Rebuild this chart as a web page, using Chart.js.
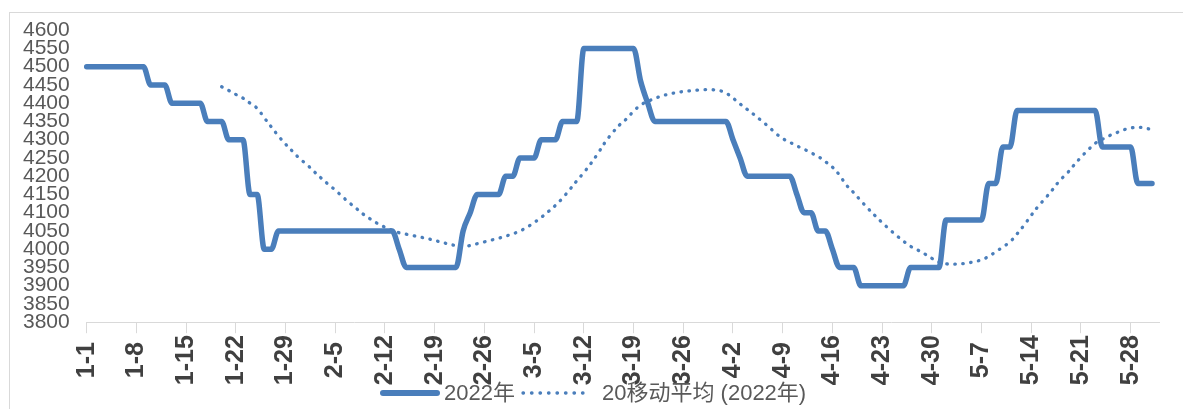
<!DOCTYPE html>
<html>
<head>
<meta charset="utf-8">
<script src="https://cdn.jsdelivr.net/npm/chart.js@4"></script>
<style>
  body { margin: 0; background: #fff; overflow: hidden; }
  #wrap { position: relative; width: 1183px; height: 409px; }
  #frame { position: absolute; left: 9px; top: 12px; width: 1200px; height: 420px;
           border-left: 1px solid #d9d9d9; border-top: 1px solid #d9d9d9; }
  #myChart { position: absolute; left: 0; top: 0; }
  .lg { position: absolute; top: 380px; height: 26px; line-height: 26px;
        font-family: "Liberation Sans", "Noto Sans CJK SC", sans-serif; font-size: 22px; color: #595959; white-space: nowrap; }
  .lg svg { position: absolute; top: 0; }
</style>
</head>
<body>
<div id="wrap">
  <div id="frame"></div>
  <canvas id="myChart" width="1183" height="409"></canvas>
  <div class="lg" style="left:380px;width:60px"><svg width="60" height="26"><line x1="3" y1="13" x2="57" y2="13" stroke="#4a7ebb" stroke-width="6" stroke-linecap="round"/></svg></div>
  <div class="lg" style="left:444px">2022年</div>
  <div class="lg" style="left:520px;width:66px"><svg width="66" height="26"><line x1="3" y1="13" x2="63" y2="13" stroke="#4a7ebb" stroke-width="3.3" stroke-linecap="round" stroke-dasharray="0.5 8"/></svg></div>
  <div class="lg" style="left:602px">20移动平均 (2022年)</div>
</div>
<script>
// Kategorien: Tage 1-1 bis 6-1
var categories = [];
[[1, 31], [2, 28], [3, 31], [4, 30], [5, 31], [6, 1]].forEach(function (m) {
    for (var d = 1; d <= m[1]; d++) categories.push(m[0] + '-' + d);
});

// beschriftete Ticks (jede Woche)
var tickLabels = ['1-1', '1-8', '1-15', '1-22', '1-29', '2-5', '2-12', '2-19', '2-26', '3-5', '3-12',
    '3-19', '3-26', '4-2', '4-9', '4-16', '4-23', '4-30', '5-7', '5-14', '5-21', '5-28'];

// 2022年 (Tageswerte bis 5-31)
var price2022 = [
    4500, 4500, 4500, 4500, 4500, 4500, 4500, 4500, 4500, 4450, 4450, 4450, 4400, 4400, 4400, 4400,
    4400, 4350, 4350, 4350, 4300, 4300, 4300, 4150, 4150, 4000, 4000, 4050, 4050, 4050, 4050,
    // Februar
    4050, 4050, 4050, 4050, 4050, 4050, 4050, 4050, 4050, 4050, 4050, 4050, 4050, 4000, 3950, 3950,
    3950, 3950, 3950, 3950, 3950, 3950, 4050, 4100, 4150, 4150, 4150, 4150,
    // Maerz
    4200, 4200, 4250, 4250, 4250, 4300, 4300, 4300, 4350, 4350, 4350, 4550, 4550, 4550, 4550, 4550,
    4550, 4550, 4550, 4460, 4400, 4350, 4350, 4350, 4350, 4350, 4350, 4350, 4350, 4350, 4350,
    // April
    4350, 4300, 4250, 4200, 4200, 4200, 4200, 4200, 4200, 4200, 4150, 4100, 4100, 4050, 4050, 4000,
    3950, 3950, 3950, 3900, 3900, 3900, 3900, 3900, 3900, 3900, 3950, 3950, 3950, 3950,
    // Mai
    3950, 4080, 4080, 4080, 4080, 4080, 4080, 4180, 4180, 4280, 4280, 4380, 4380, 4380, 4380, 4380,
    4380, 4380, 4380, 4380, 4380, 4380, 4380, 4280, 4280, 4280, 4280, 4280, 4180, 4180, 4180
];

// 20移动平均 (ab 1-20)
var ma20 = [
    null, null, null, null, null, null, null, null, null, null, null, null, null, null, null, null,
    null, null, null, 4445, 4435, 4424, 4414, 4400, 4386, 4360, 4335, 4310, 4288, 4268, 4248,
    // Februar
    4232, 4213, 4195, 4178, 4162, 4144, 4127, 4111, 4095, 4082, 4070, 4060, 4052, 4045, 4041, 4037,
    4033, 4029, 4024, 4019, 4014, 4010, 4008, 4010, 4015, 4020, 4025, 4030,
    // Maerz
    4036, 4042, 4050, 4060, 4073, 4087, 4103, 4120, 4140, 4163, 4187, 4210, 4235, 4263, 4293, 4318,
    4340, 4357, 4378, 4395, 4405, 4413, 4420, 4425, 4429, 4432, 4434, 4436, 4437, 4437, 4435,
    // April
    4428, 4414, 4398, 4383, 4368, 4352, 4336, 4318, 4303, 4293, 4283, 4274, 4264, 4254, 4240, 4225,
    4203, 4175, 4155, 4133, 4112, 4092, 4073, 4055, 4038, 4022, 4008, 3998, 3987, 3975,
    // Mai
    3965, 3960, 3959, 3960, 3962, 3966, 3971, 3980, 3993, 4006, 4020, 4042, 4066, 4093, 4118, 4140,
    4163, 4188, 4207, 4230, 4252, 4272, 4290, 4301, 4311, 4319, 4327, 4332, 4334, 4332, 4327
];

var lineColor = '#4a7ebb';

var ctx = document.getElementById('myChart').getContext('2d');
var myChart = new Chart(ctx, {
    type: 'line',
    data: {
        labels: categories,
        datasets: [{
            label: '2022年',
            data: price2022,
            borderColor: lineColor,
            borderWidth: 5.5,
            cubicInterpolationMode: 'monotone',
            pointRadius: 0,
            borderCapStyle: 'round',
            borderJoinStyle: 'round'
        }, {
            label: '20移动平均 (2022年)',
            data: ma20,
            borderColor: lineColor,
            borderWidth: 3.3,
            borderDash: [0.5, 7.5],
            borderCapStyle: 'round',
            tension: 0.4,
            pointRadius: 0
        }]
    },
    options: {
        responsive: false,
        animation: false,
        layout: { padding: { top: 30.2, right: 23.9, bottom: 0, left: 0 } },
        plugins: { legend: { display: false }, tooltip: { enabled: false } },
        scales: {
            x: {
                offset: false,
                grid: {
                    drawOnChartArea: false,
                    drawTicks: true,
                    tickLength: 11,
                    color: function (c) {
                        return tickLabels.indexOf(categories[c.index]) >= 0 ? '#d9d9d9' : 'rgba(0,0,0,0)';
                    }
                },
                border: { display: true, color: '#d9d9d9', width: 1 },
                ticks: {
                    autoSkip: false,
                    minRotation: 90,
                    maxRotation: 90,
                    padding: 2,
                    color: '#404040',
                    font: { family: 'Liberation Sans', size: 25, weight: 'bold' },
                    callback: function (val, idx) {
                        var l = categories[idx];
                        if (tickLabels.indexOf(l) < 0) return '';
                        return l.length < 4 ? l + ' ' : l;
                    }
                },
                afterFit: function (s) {
                    s.height = 86.8;
                    s.paddingLeft = 0;
                    s.paddingRight = 23.9;
                }
            },
            y: {
                min: 3800,
                max: 4600,
                grid: { display: false, drawTicks: false },
                border: { display: false },
                ticks: {
                    stepSize: 50,
                    autoSkip: false,
                    padding: 17,
                    color: '#595959',
                    font: { family: 'Liberation Sans', size: 21 },
                    callback: function (v) { return String(v); }
                },
                afterFit: function (s) { s.width = 86.7; }
            }
        }
    }
});
</script>
</body>
</html>
